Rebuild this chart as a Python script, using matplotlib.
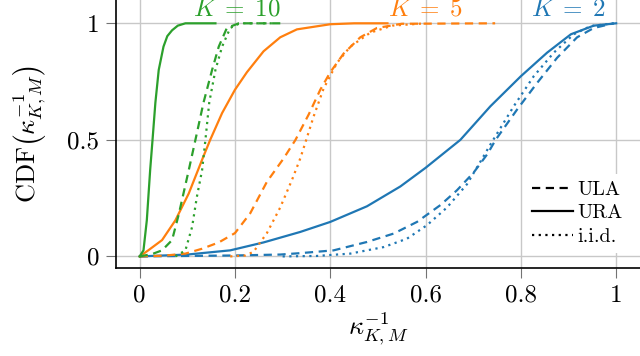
import matplotlib
matplotlib.use("Agg")
import matplotlib.pyplot as plt

plt.rcParams['font.family'] = 'serif'
plt.rcParams['font.serif'] = ['cmr10']
plt.rcParams['mathtext.fontset'] = 'cm'
plt.rcParams['axes.formatter.use_mathtext'] = True
plt.rcParams['axes.unicode_minus'] = False

# K = 2 (blue)
k2_ura_x = [0, 0.1, 0.19, 0.26, 0.337, 0.4, 0.477, 0.547, 0.6, 0.673, 0.736, 0.8, 0.855, 0.905, 0.953, 1.0]
k2_ura_y = [0, 0.008, 0.026, 0.06, 0.105, 0.148, 0.215, 0.30, 0.38, 0.5, 0.644, 0.773, 0.874, 0.953, 0.99, 1.0]
k2_ula_x = [0, 0.2, 0.295, 0.337, 0.407, 0.477, 0.533, 0.582, 0.631, 0.666, 0.701, 0.73, 0.747, 0.792, 0.834, 0.876, 0.918, 0.953, 0.995]
k2_ula_y = [0, 0.004, 0.008, 0.014, 0.026, 0.062, 0.098, 0.148, 0.22, 0.284, 0.36, 0.44, 0.5, 0.63, 0.744, 0.852, 0.94, 0.98, 1.0]
k2_iid_x = [0.3, 0.372, 0.442, 0.512, 0.561, 0.603, 0.645, 0.687, 0.719, 0.736, 0.785, 0.827, 0.869, 0.911, 0.946, 0.995]
k2_iid_y = [0, 0.002, 0.012, 0.04, 0.076, 0.134, 0.21, 0.31, 0.42, 0.48, 0.644, 0.773, 0.874, 0.953, 0.988, 1.0]

# K = 5 (orange)
k5_ura_x = [0, 0.018, 0.047, 0.075, 0.103, 0.134, 0.148, 0.173, 0.2, 0.225, 0.26, 0.295, 0.33, 0.4, 0.45, 0.52]
k5_ura_y = [0, 0.026, 0.07, 0.155, 0.27, 0.43, 0.5, 0.615, 0.715, 0.79, 0.88, 0.94, 0.974, 0.996, 1.0, 1.0]
k5_ula_x = [0, 0.05, 0.096, 0.131, 0.166, 0.2, 0.232, 0.267, 0.302, 0.327, 0.355, 0.379, 0.4, 0.428, 0.463, 0.498, 0.55, 0.746]
k5_ula_y = [0, 0.003, 0.012, 0.033, 0.06, 0.1, 0.185, 0.32, 0.42, 0.5, 0.61, 0.715, 0.79, 0.87, 0.94, 0.98, 0.998, 1.0]
k5_iid_x = [0.19, 0.222, 0.239, 0.267, 0.295, 0.32, 0.337, 0.348, 0.365, 0.386, 0.414, 0.442, 0.484, 0.53, 0.6]
k5_iid_y = [0, 0.004, 0.02, 0.1, 0.21, 0.33, 0.42, 0.49, 0.6, 0.72, 0.83, 0.9, 0.96, 0.99, 1.0]

# K = 10 (green)
k10_ura_x = [0, 0.008, 0.015, 0.022, 0.027, 0.033, 0.04, 0.05, 0.058, 0.068, 0.08, 0.096, 0.159]
k10_ura_y = [0, 0.026, 0.155, 0.37, 0.5, 0.66, 0.8, 0.9, 0.945, 0.97, 0.99, 1.0, 1.0]
k10_ula_x = [0, 0.026, 0.047, 0.068, 0.082, 0.103, 0.117, 0.134, 0.152, 0.166, 0.183, 0.208, 0.305]
k10_ula_y = [0, 0.01, 0.026, 0.07, 0.18, 0.37, 0.5, 0.66, 0.8, 0.9, 0.98, 1.0, 1.0]
k10_iid_x = [0.075, 0.096, 0.11, 0.12, 0.131, 0.138, 0.146, 0.159, 0.173, 0.19, 0.21, 0.28]
k10_iid_y = [0, 0.026, 0.126, 0.255, 0.37, 0.5, 0.66, 0.8, 0.9, 0.98, 1.0, 1.0]

xticks = [0, 0.2, 0.4, 0.6, 0.8, 1]
xticklabels = ['0', '0.2', '0.4', '0.6', '0.8', '1']
yticks = [0, 0.5, 1]
yticklabels = ['0', '0.5', '1']

blue, orange, green = '#1f77b4', '#ff7f0e', '#2ca02c'
lw = 1.6
dash = (0, (3.7, 2.5))
dot = (0, (1, 2))

fig = plt.figure(figsize=(6.4, 3.56), dpi=100)
ax = fig.add_axes([0.181, 0.247, 0.819, 0.753])

ax.plot(k2_ula_x, k2_ula_y, color=blue, lw=lw, ls=dash)
ax.plot(k2_ura_x, k2_ura_y, color=blue, lw=lw, ls='-')
ax.plot(k2_iid_x, k2_iid_y, color=blue, lw=lw, ls=dot)
ax.plot(k5_ula_x, k5_ula_y, color=orange, lw=lw, ls=dash)
ax.plot(k5_ura_x, k5_ura_y, color=orange, lw=lw, ls='-')
ax.plot(k5_iid_x, k5_iid_y, color=orange, lw=lw, ls=dot)
ax.plot(k10_ula_x, k10_ula_y, color=green, lw=lw, ls=dash)
ax.plot(k10_ura_x, k10_ura_y, color=green, lw=lw, ls='-')
ax.plot(k10_iid_x, k10_iid_y, color=green, lw=lw, ls=dot)

ax.text(0.203, 1.058, r'$K\;=\;10$', color=green, fontsize=18, ha='center', va='center')
ax.text(0.6, 1.058, r'$K\;=\;5$', color=orange, fontsize=18, ha='center', va='center')
ax.text(0.9, 1.058, r'$K\;=\;2$', color=blue, fontsize=18, ha='center', va='center')

# legend handles in black
h1, = ax.plot([], [], color='black', lw=lw, ls=dash, label='ULA')
h2, = ax.plot([], [], color='black', lw=lw, ls='-', label='URA')
h3, = ax.plot([], [], color='black', lw=lw, ls=dot, label='i.i.d.')
leg = ax.legend(handles=[h1, h2, h3], loc='lower right', bbox_to_anchor=(1.0, 0.02),
                fontsize=14.5, frameon=True, framealpha=1, edgecolor='none',
                handlelength=2.0, handletextpad=0.25, labelspacing=0.25, borderpad=0.35)

ax.set_xlim(-0.05, 1.05)
ax.set_ylim(-0.05, 1.1)
ax.set_xticks(xticks)
ax.set_xticklabels(xticklabels)
ax.set_yticks(yticks)
ax.set_yticklabels(yticklabels)
ax.tick_params(labelsize=18, length=7, width=0.8, color='0.45', direction='out', pad=5)
ax.grid(True, color='#c8c8c8', lw=1)
ax.set_axisbelow(True)
for s in ['top', 'right']:
    ax.spines[s].set_visible(False)
for s in ['left', 'bottom']:
    ax.spines[s].set_linewidth(1.2)

ax.set_xlabel(r'$\kappa_{K,M}^{-1}$', fontsize=19, labelpad=3)
ax.set_ylabel(r'CDF$\left(\kappa_{K,M}^{-1}\right)$', fontsize=19, labelpad=13)

fig.savefig('out.png', dpi=100)
